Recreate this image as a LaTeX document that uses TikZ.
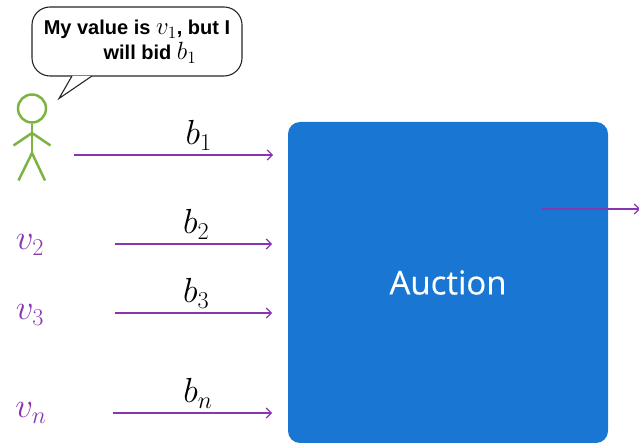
\documentclass[tikz,border=0pt]{standalone}
\usepackage{amsmath}
\usepackage{graphicx}
\usepackage{fontspec}
\setmainfont{Liberation Sans}
\newfontfamily\boxfont[FakeBold=0.25]{Open Sans}
\usepackage{tikz}
\usetikzlibrary{arrows.meta,positioning,calc}
\definecolor{auctionblue}{HTML}{1976D2}
\definecolor{bidpurple}{HTML}{8736B0}
\definecolor{figgreen}{HTML}{7CB342}
\newcommand{\saymath}[1]{\scalebox{1.2}{\mdseries$#1$}}

\begin{document}
\begin{tikzpicture}[
    x=1pt, y=-1pt,
    auct/.style={fill=auctionblue, rounded corners=12pt, text=white, font=\boxfont\fontsize{33}{38}\selectfont,
                 minimum width=320pt, minimum height=321pt, inner sep=0pt},
    bubble/.style={draw=black!85, line width=1.1pt, fill=white, rounded corners=18pt, align=center,
                   font=\bfseries\fontsize{20}{25}\selectfont, minimum width=210pt, minimum height=69pt, inner sep=0pt},
    bid/.style={draw=bidpurple, line width=1.4pt, -{Straight Barb[length=5pt,width=10pt,line width=1.2pt]}},
    stick/.style={draw=figgreen, line width=2.5pt},
    bidlab/.style={font=\fontsize{25}{30}\selectfont, scale=1.4, inner sep=0pt},
    vallab/.style={font=\fontsize{25}{30}\selectfont, scale=1.4, text=bidpurple, inner sep=0pt}
  ]
    \useasboundingbox (0,0) rectangle (639,443);

    % auction box and the outgoing line
    \node[auct] (auction) at (448,282.5) {Auction};
    \coordinate (outa) at (542,209);
    \coordinate (outb) at (640,209);
    \draw[bid] (outa) -- (outb);

    % speech bubble
    \node[bubble] (say) at (137,41.5) {My value is \saymath{v_1}, but I\\\hspace*{26pt}will bid \saymath{b_1}};
    \coordinate (tipa) at (72,76);
    \coordinate (tipb) at (59,98.5);
    \coordinate (tipc) at (92,76);
    \fill[white] (tipa) -- (tipb) -- (tipc) -- cycle;
    \draw[black!85, line width=1.1pt, line join=miter] (tipa) -- (tipb) -- (tipc);

    % the bidder
    \node[stick, circle, minimum size=28pt, inner sep=0pt] (head) at (32,108.5) {};
    \coordinate (neck) at (32,133);
    \coordinate (hip)  at (32,153);
    \draw[stick] (head.south) -- (hip);
    \draw[stick] (13.5,145.5) -- (neck) -- (50.5,145.5);
    \draw[stick] (18.5,180.5) -- (hip) -- (45,180.5);

    % values
    \node[vallab] (v2) at (30,245) {$v_2$};
    \node[vallab] (v3) at (30,315) {$v_3$};
    \node[vallab] (vn) at (31,413) {$v_n$};

    % bids
    \coordinate (in1) at (74,155);
    \coordinate (in2) at (115,244);
    \coordinate (in3) at (115,313);
    \coordinate (in4) at (113,413);
    \coordinate (end1) at (273,155);
    \coordinate (end2) at (272,244);
    \coordinate (end3) at (272,313);
    \coordinate (end4) at (272,413);
    \draw[bid] (in1) -- node[bidlab, above=4pt, xshift=18pt] (b1) {$b_1$} (end1);
    \draw[bid] (in2) -- node[bidlab, above=4pt, xshift=2pt] (b2) {$b_2$} (end2);
    \draw[bid] (in3) -- node[bidlab, above=4pt, xshift=2pt] (b3) {$b_3$} (end3);
    \draw[bid] (in4) -- node[bidlab, above=4pt, xshift=4pt] (bn) {$b_n$} (end4);
\end{tikzpicture}
\end{document}
